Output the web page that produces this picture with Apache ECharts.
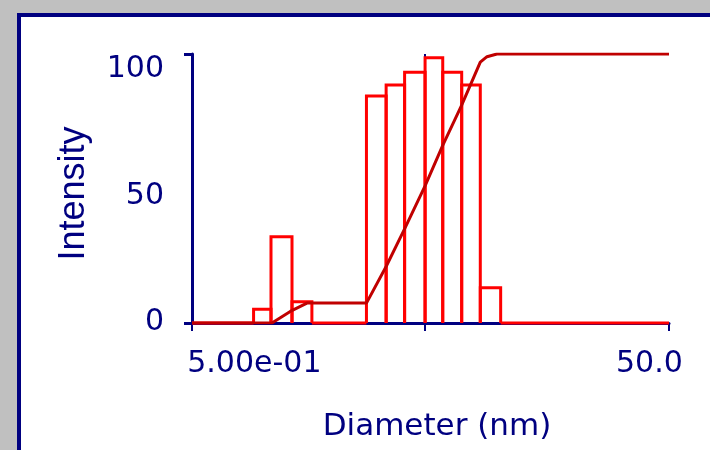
<!DOCTYPE html>
<html>
<head>
<meta charset="utf-8">
<script src="https://cdn.jsdelivr.net/npm/echarts@6/dist/echarts.min.js"></script>
<style>
html, body { margin: 0; padding: 0; width: 710px; height: 450px; overflow: hidden; background: #c0c0c0; }
#panel { position: absolute; left: 17px; top: 13px; width: 720px; height: 460px; background: #fff; border: 4px solid #000080; }
#chart { position: absolute; left: 0; top: 0; width: 710px; height: 450px; }
</style>
</head>
<body>
<div id="panel"></div>
<div id="chart"></div>
<script>
// size distribution by intensity, diameter in nm (log axis)
var binLo = [0.5, 0.906, 1.072, 1.313, 1.591, 2.694, 3.258, 3.894, 4.745, 5.627, 6.757, 8.086, 9.843];
var binHi = [0.906, 1.072, 1.313, 1.591, 2.694, 3.258, 3.894, 4.745, 5.627, 6.757, 8.086, 9.843, 50];
var intensity = [0, 5.1, 32.1, 7.9, 0, 84.4, 88.5, 93.2, 98.6, 93.2, 88.5, 13.1, 0];

// cumulative curve
var cumDiam = [0.5, 1.082, 1.291, 1.517, 2.694, 3.258, 3.894, 4.745, 5.627, 6.757, 8.086, 8.625, 9.497, 50];
var cumPct = [0, 0, 4.3, 7.4, 7.4, 21, 35, 51, 66, 81, 97, 99, 100, 100];

var markDiam = 4.745;
var xTicks = [0.5, markDiam, 50];
var xLabels = [0.5, 50];
var yTicks = [0, 100];
var yLabels = [0, 50, 100];

var navy = '#000080';

var myChart = echarts.init(document.getElementById('chart'));

var option = {
  animation: false,
  grid: {
    left: 192,
    right: 41,
    top: 54,
    bottom: 127,
    outerBoundsMode: 'none'
  },
  xAxis: {
    type: 'log',
    logBase: 10,
    min: 0.5,
    max: 50,
    name: 'Diameter (nm)',
    nameLocation: 'middle',
    nameGap: 88,
    nameTextStyle: {
      color: navy,
      fontFamily: 'DejaVu Sans',
      fontSize: 31,
      padding: [0, 0, 0, 13]
    },
    axisLine: { show: true, lineStyle: { color: navy, width: 3 } },
    axisTick: {
      show: true,
      customValues: xTicks,
      length: 8,
      lineStyle: { color: navy, width: 2 }
    },
    minorTick: { show: false },
    splitLine: { show: false },
    axisLabel: {
      customValues: xLabels,
      margin: 26,
      color: navy,
      fontFamily: 'DejaVu Sans',
      fontSize: 30,
      formatter: function (value) {
        return value < 1 ? '{l|5.00e-01}' : '{r|50.0}';
      },
      rich: {
        l: { width: 259, align: 'right', color: navy, fontFamily: 'DejaVu Sans', fontSize: 30 },
        r: { width: 106, align: 'left', color: navy, fontFamily: 'DejaVu Sans', fontSize: 30 }
      }
    }
  },
  yAxis: {
    type: 'value',
    min: 0,
    max: 100,
    name: 'Intensity',
    nameLocation: 'middle',
    nameRotate: 90,
    nameGap: 100,
    nameTextStyle: {
      color: navy,
      fontFamily: 'Liberation Sans',
      fontSize: 36,
      padding: [0, 10, 0, 0]
    },
    axisLine: { show: true, lineStyle: { color: navy, width: 3 } },
    axisTick: {
      show: true,
      customValues: yTicks,
      length: 8,
      lineStyle: { color: navy, width: 3 }
    },
    splitLine: { show: false },
    axisLabel: {
      customValues: yLabels,
      margin: 28,
      color: navy,
      fontFamily: 'DejaVu Sans',
      fontSize: 30,
      formatter: function (value) {
        if (value === 100) return '{a|100}';
        if (value === 50) return '{b|50}';
        return '{c|0}';
      },
      rich: {
        a: { padding: [30, 0, 0, 0], color: navy, fontFamily: 'DejaVu Sans', fontSize: 30 },
        b: { padding: [16, 0, 0, 0], color: navy, fontFamily: 'DejaVu Sans', fontSize: 30 },
        c: { padding: [0, 0, 2, 0], color: navy, fontFamily: 'DejaVu Sans', fontSize: 30 }
      }
    }
  },
  series: [
    {
      // marker line at the middle tick, drawn under the bars
      type: 'line',
      z: 1,
      data: [],
      markLine: {
        z: 1,
        silent: true,
        symbol: 'none',
        label: { show: false },
        lineStyle: { color: navy, width: 2, type: 'solid' },
        data: [[{ coord: [markDiam, 0] }, { coord: [markDiam, 100] }]]
      }
    },
    {
      name: 'Intensity',
      type: 'custom',
      z: 2,
      renderItem: function (params, api) {
        var lo = api.value(0);
        var hi = api.value(1);
        var v = api.value(2);
        return {
          type: 'polyline',
          shape: {
            points: [
              api.coord([lo, 0]),
              api.coord([lo, v]),
              api.coord([hi, v]),
              api.coord([hi, 0])
            ]
          },
          style: { stroke: '#ff0000', lineWidth: 3, fill: null }
        };
      },
      encode: { x: [0, 1], y: 2 },
      data: binLo.map(function (lo, i) {
        return [lo, binHi[i], intensity[i]];
      })
    },
    {
      name: 'Cumulative',
      type: 'line',
      z: 3,
      showSymbol: false,
      lineStyle: { color: '#c00000', width: 3 },
      data: cumDiam.map(function (d, i) {
        return [d, cumPct[i]];
      })
    }
  ]
};

myChart.setOption(option);
</script>
</body>
</html>
